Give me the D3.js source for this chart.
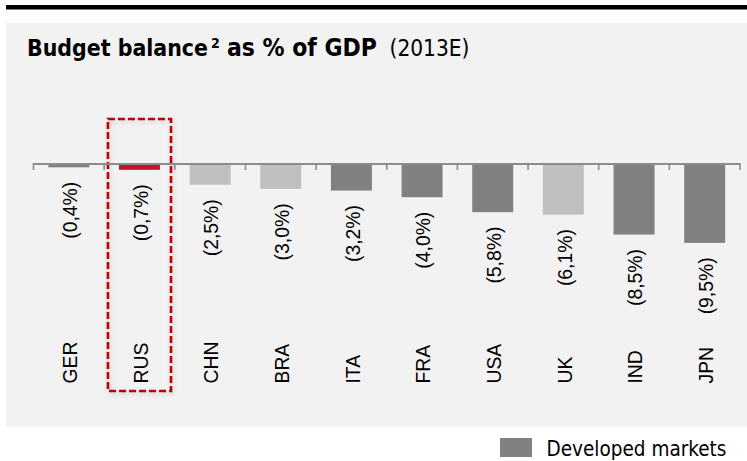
<!DOCTYPE html>
<html>
<head>
<meta charset="utf-8">
<script src="https://cdn.jsdelivr.net/npm/d3@7"></script>
<style>
  body { margin: 0; background: #fff; }
  svg { display: block; }
</style>
</head>
<body>
<svg class="chart" width="747" height="461"></svg>
<script>
// data
var countries = ['GER', 'RUS', 'CHN', 'BRA', 'ITA', 'FRA', 'USA', 'UK', 'IND', 'JPN'];
var deficits  = [0.4, 0.7, 2.5, 3.0, 3.2, 4.0, 5.8, 6.1, 8.5, 9.5];
var labels    = ['(0,4%)', '(0,7%)', '(2,5%)', '(3,0%)', '(3,2%)', '(4,0%)', '(5,8%)', '(6,1%)', '(8,5%)', '(9,5%)'];
var groups    = ['dev', 'rus', 'em', 'em', 'dev', 'dev', 'dev', 'em', 'dev', 'dev'];
var highlight = 'RUS';
var legendLabel = 'Developed markets';

var colors = { dev: '#808080', em: '#bfbfbf', rus: '#c8102e' };
var tahoma = '"DejaVu Sans Condensed", "DejaVu Sans", sans-serif';
var arial = '"Liberation Sans", Arial, sans-serif';

var svg = d3.select('.chart');

// shrink / grow a text so it fills a given width
function fit(sel, w) {
  var size = parseFloat(sel.attr('font-size'));
  var len = sel.node().getComputedTextLength();
  sel.attr('font-size', (size * w / len).toFixed(2));
  return size * w / len;
}

// top rule and panel
svg.append('rect').attr('x', 6).attr('y', 5).attr('width', 741).attr('height', 4.5).attr('fill', '#000');
svg.append('rect').attr('x', 6).attr('y', 23).attr('width', 741).attr('height', 403.5).attr('fill', '#f2f2f2');

// title
var t1 = svg.append('text').attr('x', 27).attr('y', 55.5).attr('font-family', tahoma)
  .attr('font-weight', 'bold').attr('font-size', 19).attr('fill', '#000').text('Budget balance');
fit(t1, 181);
svg.append('text').attr('x', 211).attr('y', 48).attr('font-family', tahoma)
  .attr('font-weight', 'bold').attr('font-size', 14).attr('fill', '#000').text('2');
var t2 = svg.append('text').attr('x', 227).attr('y', 55.5).attr('font-family', tahoma)
  .attr('font-weight', 'bold').attr('font-size', 19).attr('fill', '#000').text('as % of GDP');
fit(t2, 150);
var t3 = svg.append('text').attr('x', 389.5).attr('y', 55.5).attr('font-family', tahoma)
  .attr('font-size', 19).attr('fill', '#000').text('(2013E)');
fit(t3, 80);

// scales
var x = d3.scaleBand()
  .domain(countries)
  .range([33.5, 740])
  .paddingInner(0.42)
  .paddingOuter(0.21);

var y = d3.scaleLinear()
  .domain([0, 10])
  .range([164, 247]);

var data = countries.map(function(c, i) {
  return { country: c, value: deficits[i], label: labels[i], group: groups[i] };
});

// highlight box
var defs = svg.append('defs');
var f = defs.append('filter').attr('id', 'shadow').attr('x', '-20%').attr('y', '-5%').attr('width', '140%').attr('height', '110%');
f.append('feDropShadow').attr('dx', 1).attr('dy', 2).attr('stdDeviation', 2).attr('flood-color', '#000').attr('flood-opacity', 0.18);

var hx = x(highlight) - x.step() * x.paddingInner() / 2;
svg.append('rect')
  .attr('x', hx + 3.8).attr('y', 119)
  .attr('width', x.step() - 7.6).attr('height', 272)
  .attr('fill', 'none')
  .attr('stroke', '#c00000')
  .attr('stroke-width', 2.6)
  .attr('stroke-dasharray', '7,3')
  .attr('filter', 'url(#shadow)');

// bars
svg.selectAll('.bar')
  .data(data)
  .enter().append('rect')
  .attr('class', 'bar')
  .attr('x', function(d) { return x(d.country); })
  .attr('y', y(0))
  .attr('width', x.bandwidth())
  .attr('height', function(d) { return y(d.value) - y(0); })
  .attr('fill', function(d) { return colors[d.group]; });

// axis line with ticks on category boundaries
var axis = svg.append('g').attr('class', 'axis');
var r0 = x.range()[0];
axis.append('line')
  .attr('x1', r0).attr('x2', x.range()[1])
  .attr('y1', 164).attr('y2', 164)
  .attr('stroke', '#8c8c8c').attr('stroke-width', 1.8);
axis.selectAll('.tick')
  .data(d3.range(countries.length + 1))
  .enter().append('line')
  .attr('class', 'tick')
  .attr('x1', function(i) { return r0 + i * x.step(); })
  .attr('x2', function(i) { return r0 + i * x.step(); })
  .attr('y1', 163).attr('y2', 170)
  .attr('stroke', '#8c8c8c').attr('stroke-width', 1.6);

// label size: "(0,4%)" is ~57px long in the original
var probe = svg.append('text').attr('font-family', arial).attr('font-size', 19).text(labels[0]);
var labelSize = fit(probe, 57);
probe.remove();

// value labels under the bars
svg.selectAll('.value')
  .data(data)
  .enter().append('text')
  .attr('class', 'value')
  .attr('transform', function(d) {
    return 'translate(' + (x(d.country) + x.bandwidth() / 2 + 1.5) + ',' + (y(d.value) + 14.5) + ') rotate(-90)';
  })
  .attr('dy', '0.35em')
  .attr('text-anchor', 'end')
  .attr('font-family', arial)
  .attr('font-size', labelSize)
  .attr('fill', '#000')
  .text(function(d) { return d.label; });

// category labels
svg.selectAll('.cat')
  .data(data)
  .enter().append('text')
  .attr('class', 'cat')
  .attr('transform', function(d) {
    return 'translate(' + (x(d.country) + x.bandwidth() / 2 + 1.5) + ',383.5) rotate(-90)';
  })
  .attr('dy', '0.35em')
  .attr('text-anchor', 'start')
  .attr('font-family', arial)
  .attr('font-size', labelSize)
  .attr('fill', '#000')
  .text(function(d) { return d.country; });

// legend
svg.append('rect').attr('x', 500).attr('y', 438).attr('width', 32).attr('height', 19).attr('fill', colors.dev);
var lg = svg.append('text').attr('x', 546.5).attr('y', 456).attr('font-family', tahoma)
  .attr('font-size', 20).attr('fill', '#000').text(legendLabel);
fit(lg, 180);
</script>
</body>
</html>
